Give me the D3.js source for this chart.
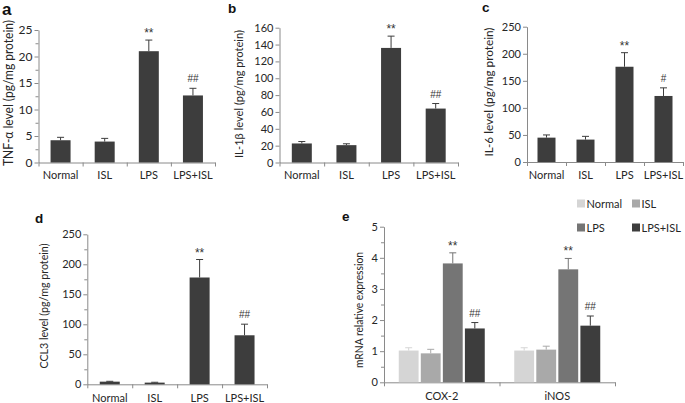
<!DOCTYPE html>
<html><head><meta charset="utf-8">
<script src="https://cdn.jsdelivr.net/npm/d3@7"></script>
<style>
html,body{margin:0;padding:0;background:#fff;}
svg{display:block;font-family:Lato,"Open Sans",sans-serif;}
</style></head>
<body>
<svg id="chart" width="685" height="403"></svg>
<script>
// ---------- data ----------
const groups = ["Normal", "ISL", "LPS", "LPS+ISL"];

const tnfMean  = [4.2, 3.95, 21.0, 12.65];
const tnfErr   = [0.55, 0.6, 2.1, 1.35];
const tnfMarks = ["", "", "**", "##"];

const il1bMean  = [22.6, 20.6, 136, 64];
const il1bErr   = [2.3, 1.6, 14, 6];
const il1bMarks = ["", "", "**", "##"];

const il6Mean  = [45, 41.4, 176, 122];
const il6Err   = [5, 6, 26, 15];
const il6Marks = ["", "", "**", "#"];

const ccl3Mean  = [4.4, 2.8, 178, 81.7];
const ccl3Err   = [0.6, 0.6, 30, 18.5];
const ccl3Marks = ["", "", "**", "##"];

const genes = ["COX-2", "iNOS"];
const mrnaNormal    = [1.02, 1.02];
const mrnaNormalErr = [0.09, 0.09];
const mrnaISL       = [0.93, 1.05];
const mrnaISLErr    = [0.13, 0.11];
const mrnaLPS       = [3.82, 3.63];
const mrnaLPSErr    = [0.34, 0.35];
const mrnaLPSISL    = [1.73, 1.82];
const mrnaLPSISLErr = [0.19, 0.31];
const mrnaMarks = { "LPS": ["**", "**"], "LPS+ISL": ["##", "##"] };

const tnfTicks  = [0, 5, 10, 15, 20, 25];
const il1bTicks = [0, 20, 40, 60, 80, 100, 120, 140, 160];
const il6Ticks  = [0, 50, 100, 150, 200, 250];
const ccl3Ticks = [0, 50, 100, 150, 200, 250];
const mrnaTicks = [0, 1, 2, 3, 4, 5];

// ---------- drawing ----------
const svg = d3.select("#chart");
const AXIS = "#8a8a8a", TXT = "#262626", BAR = "#3d3d3d";

function styleAxis(g) {
  g.selectAll(".domain").attr("stroke", AXIS).attr("stroke-width", 1);
  g.selectAll(".tick line").attr("stroke", AXIS).attr("stroke-width", 1);
  g.selectAll(".tick text").attr("fill", TXT);
}

function drawFrame(p) {
  const g = svg.append("g");
  const y = d3.scaleLinear().domain([0, p.max]).range([p.y0, p.yTop]);
  if (p.minor) {
    const minors = p.ticks.slice(0, -1).map(v => v + p.minor);
    const ma = d3.axisLeft(y).tickValues(minors).tickSize(3).tickFormat("");
    const gm = g.append("g").attr("transform", `translate(${p.x0},0)`).call(ma);
    gm.select(".domain").remove();
    styleAxis(gm);
  }
  const ya = d3.axisLeft(y).tickValues(p.ticks).tickSize(4).tickPadding(2)
    .tickSizeOuter(0).tickFormat(d3.format("d"));
  const gy = g.append("g").attr("transform", `translate(${p.x0},0)`).call(ya);
  gy.selectAll("text").attr("font-size", p.yFont || 11).attr("font-family", "Lato");
  styleAxis(gy);
  const n = p.cats.length;
  const xl = d3.scaleLinear().domain([0, n]).range([p.x0, p.x1]);
  const xa = d3.axisBottom(xl).tickValues(d3.range(n + 1)).tickSize(4).tickSizeOuter(0).tickFormat("");
  const gx = g.append("g").attr("transform", `translate(0,${p.y0})`).call(xa);
  styleAxis(gx);
  const xb = d3.scaleBand().domain(p.cats).range([p.x0, p.x1]);
  const xla = d3.axisBottom(xb).tickSize(0).tickPadding(p.labelPad || 9);
  const gl = g.append("g").attr("transform", `translate(0,${p.y0})`).call(xla);
  gl.select(".domain").remove();
  gl.selectAll("text").attr("font-size", 11).attr("fill", TXT).attr("font-family", "Lato");
  g.append("text").text(p.title)
    .attr("transform", `translate(${p.titleX},${p.titleY}) rotate(-90)`)
    .attr("text-anchor", "middle").attr("dominant-baseline", "central")
    .attr("font-size", p.titleFont || 11).attr("fill", TXT)
    .attr("textLength", p.titleLen).attr("lengthAdjust", "spacingAndGlyphs");
  g.append("text").text(p.letter).attr("x", p.lx).attr("y", p.ly)
    .attr("font-size", p.letterFont || 13.5).attr("font-weight", "bold").attr("fill", "#111")
    .attr("font-family", "Liberation Sans, Arial, sans-serif");
  return { g, y, xb };
}

function drawBar(g, y, cx, w, mean, err, color, mark) {
  g.append("rect").attr("x", cx - w / 2).attr("y", y(mean))
    .attr("width", w).attr("height", y(0) - y(mean)).attr("fill", color);
  const top = y(mean + err);
  g.append("line").attr("x1", cx).attr("x2", cx).attr("y1", y(mean)).attr("y2", top)
    .attr("stroke", color).attr("stroke-width", 1);
  g.append("line").attr("x1", cx - 3.5).attr("x2", cx + 3.5).attr("y1", top).attr("y2", top)
    .attr("stroke", color).attr("stroke-width", 1);
  if (mark) {
    const isStar = mark.startsWith("*");
    g.append("text").text(mark).attr("x", cx).attr("y", isStar ? top - 3 : top - 6)
      .attr("text-anchor", "middle").attr("font-size", isStar ? 12 : 10)
      .attr("fill", "#333").attr("font-family", "Liberation Sans, Arial, sans-serif");
  }
}

function simplePanel(p, means, errs, marks) {
  const { g, y, xb } = drawFrame(p);
  groups.forEach((c, i) => {
    drawBar(g, y, xb(c) + xb.bandwidth() / 2, p.barW, means[i], errs[i], BAR, marks[i]);
  });
}

simplePanel({cats: groups, x0: 38.5, x1: 215, y0: 162.5, yTop: 30, max: 25, ticks: tnfTicks, minor: 2.5,
  title: "TNF-α level (pg/mg protein)", titleX: 8, titleY: 93, titleFont: 13.5, titleLen: 146, yFont: 12,
  letter: "a", lx: 2, ly: 15, letterFont: 17, barW: 20}, tnfMean, tnfErr, tnfMarks);

simplePanel({cats: groups, x0: 279.5, x1: 458, y0: 162.5, yTop: 27.7, max: 160, ticks: il1bTicks,
  title: "IL-1β level (pg/mg protein)", titleX: 238, titleY: 94, titleLen: 128,
  letter: "b", lx: 228, ly: 13, barW: 20}, il1bMean, il1bErr, il1bMarks);

simplePanel({cats: groups, x0: 527, x1: 683, y0: 162, yTop: 26.7, max: 250, ticks: il6Ticks,
  title: "IL-6 level (pg/mg protein)", titleX: 488, titleY: 92, titleLen: 129,
  letter: "c", lx: 482, ly: 11.5, barW: 18}, il6Mean, il6Err, il6Marks);

simplePanel({cats: groups, x0: 87.3, x1: 267, y0: 384.3, yTop: 234.3, max: 250, ticks: ccl3Ticks, minor: 25,
  title: "CCL3 level (pg/mg protein)", titleX: 43, titleY: 306, titleLen: 125, labelPad: 10,
  letter: "d", lx: 35, ly: 223, barW: 20}, ccl3Mean, ccl3Err, ccl3Marks);

// panel e
(function () {
  const p = {cats: genes, x0: 384, x1: 615, y0: 382.3, yTop: 226.7, max: 5, ticks: mrnaTicks, minor: 0.5,
    title: "mRNA relative expression", titleX: 358, titleY: 310, titleLen: 116, labelPad: 10,
    letter: "e", lx: 342, ly: 220.5};
  const { g, y, xb } = drawFrame(p);
  const colors = ["#d5d5d5", "#a9a9a9", "#757575", "#3d3d3d"];
  const series = [
    { name: "Normal",  m: mrnaNormal, e: mrnaNormalErr },
    { name: "ISL",     m: mrnaISL,    e: mrnaISLErr },
    { name: "LPS",     m: mrnaLPS,    e: mrnaLPSErr },
    { name: "LPS+ISL", m: mrnaLPSISL, e: mrnaLPSISLErr }
  ];
  const inner = d3.scaleBand().domain(groups).range([-43, 43]).paddingInner(0.1);
  genes.forEach((gn, gi) => {
    const c = xb(gn) + xb.bandwidth() / 2;
    series.forEach((s, si) => {
      const cx = c + inner(s.name) + inner.bandwidth() / 2;
      const mk = mrnaMarks[s.name] ? mrnaMarks[s.name][gi] : "";
      drawBar(g, y, cx, inner.bandwidth(), s.m[gi], s.e[gi], colors[si], mk);
    });
  });
  const lg = svg.append("g");
  const lx = [577, 632], ly = [199.5, 223.5];
  groups.forEach((name, i) => {
    const x = lx[i % 2], yy = ly[Math.floor(i / 2)];
    lg.append("rect").attr("x", x).attr("y", yy).attr("width", 8).attr("height", 8).attr("fill", colors[i]);
    lg.append("text").text(name).attr("x", x + 9.5).attr("y", yy + 8)
      .attr("font-size", 11).attr("fill", TXT).attr("font-family", "Lato");
  });
})();
</script>
</body></html>
